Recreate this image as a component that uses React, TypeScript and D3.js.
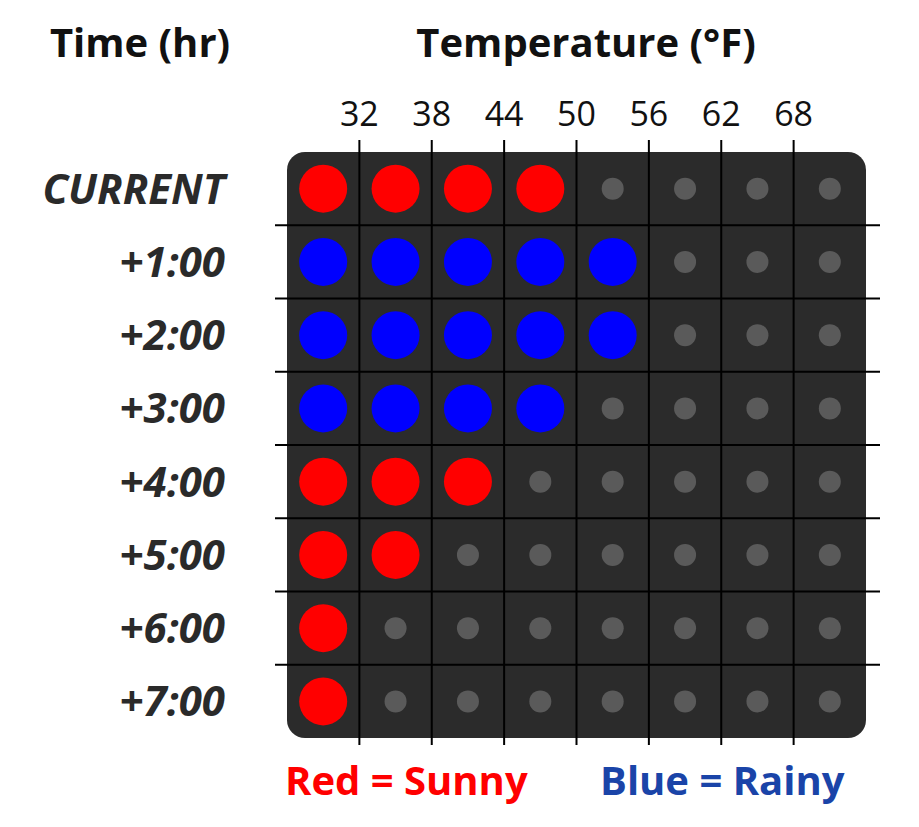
import React from 'react';
import * as d3 from 'd3';

const rowLabels = ['CURRENT', '+1:00', '+2:00', '+3:00', '+4:00', '+5:00', '+6:00', '+7:00'];
const tempTicks = [32, 38, 44, 50, 56, 62, 68];
// colored dots per row (from left), and weather type
const activeCounts = [4, 5, 5, 4, 3, 2, 1, 1];
const weather = ['sunny', 'rainy', 'rainy', 'rainy', 'sunny', 'sunny', 'sunny', 'sunny'];
const colCount = 8;

const W = 919;
const H = 827;
const left = 287, right = 866, top = 152, bottom = 738;

export default function App() {
  const x = d3.scaleLinear().domain([26, 26 + 6 * colCount]).range([left, right]);
  const y = d3.scaleBand<number>().domain(d3.range(rowLabels.length)).range([top, bottom]);
  const colColor: Record<string, string> = { sunny: '#ff0000', rainy: '#0000ff' };
  const font = '"Open Sans", "Noto Sans", sans-serif';

  const cells: { r: number; c: number }[] = [];
  rowLabels.forEach((_, r) => d3.range(colCount).forEach(c => cells.push({ r, c })));

  return (
    <svg width={W} height={H} style={{ position: 'absolute', left: 0, top: 0 }} fontFamily={font}>
      <rect width={W} height={H} fill="#fff" />
      <text x={140} y={57} textAnchor="middle" fontSize={40} fontWeight={700} fill="#111">Time (hr)</text>
      <text x={586} y={57} textAnchor="middle" fontSize={40} fontWeight={700} fill="#111">Temperature (°F)</text>
      {tempTicks.map(t => (
        <text key={t} x={x(t)} y={126} textAnchor="middle" fontSize={34} fill="#111">{t}</text>
      ))}
      <rect x={left} y={top} width={right - left} height={bottom - top} rx={18} fill="#2b2b2b" />
      {tempTicks.map(t => (
        <line key={'v' + t} x1={x(t)} x2={x(t)} y1={140} y2={745} stroke="#000" strokeWidth={2} />
      ))}
      {d3.range(1, rowLabels.length).map(r => (
        <line key={'h' + r} x1={275} x2={880} y1={y(r)!} y2={y(r)!} stroke="#000" strokeWidth={2} />
      ))}
      {rowLabels.map((l, r) => (
        <text key={l} x={225} y={y(r)! + y.bandwidth() / 2 + 15} textAnchor="end" fontSize={42}
          fontWeight={700} fontStyle="italic" fill="#2a2a2a">{l}</text>
      ))}
      {cells.map(({ r, c }) => {
        const active = c < activeCounts[r];
        return (
          <circle key={r + '-' + c} cx={x(26 + 6 * c + 3)} cy={y(r)! + y.bandwidth() / 2}
            r={active ? 24 : 11} fill={active ? colColor[weather[r]] : '#5a5a5a'} />
        );
      })}
      <text x={285} y={795} fontSize={40} fontWeight={700} fill="#ff0000">Red = Sunny</text>
      <text x={600} y={795} fontSize={40} fontWeight={700} fill="#1a44a8">Blue = Rainy</text>
    </svg>
  );
}
